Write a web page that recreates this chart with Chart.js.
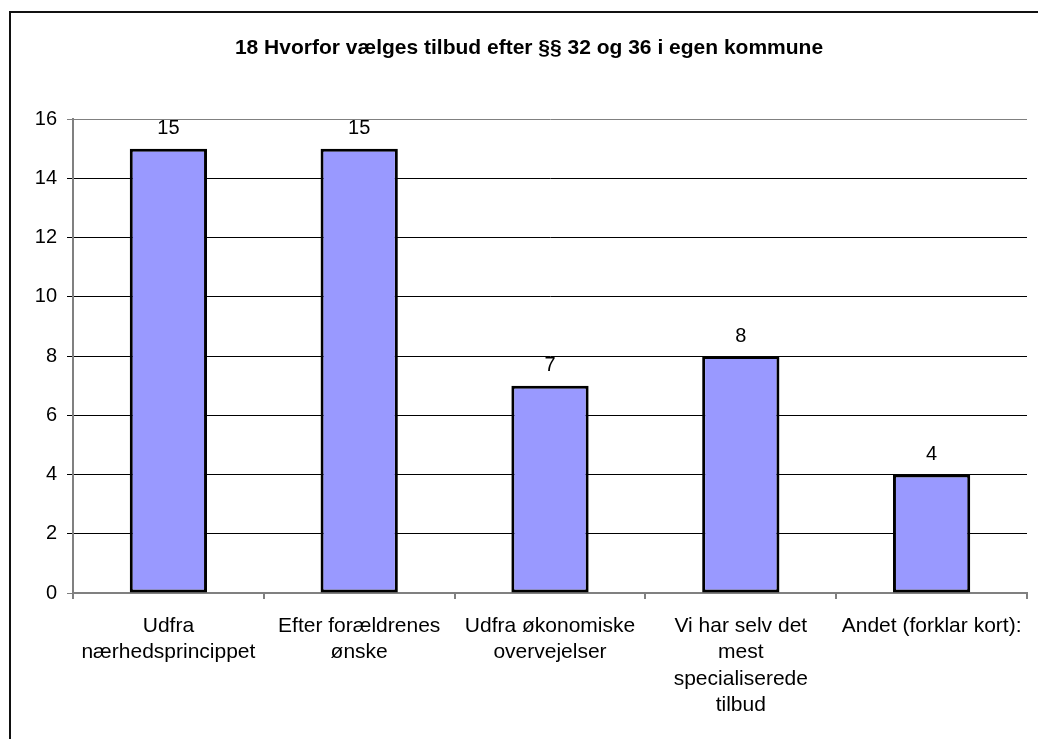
<!DOCTYPE html>
<html>
<head>
<meta charset="utf-8">
<script src="https://cdn.jsdelivr.net/npm/chart.js@4/dist/chart.umd.min.js"></script>
<style>
  html, body { margin: 0; padding: 0; background: #fff; }
  #wrap { width: 1038px; height: 739px; }
</style>
</head>
<body>
<div id="wrap"><canvas id="chart" width="1038" height="739"></canvas></div>
<script>
// ===== DATI =====
const categorie = [
  ["Udfra", "nærhedsprincippet"],
  ["Efter forældrenes", "ønske"],
  ["Udfra økonomiske", "overvejelser"],
  ["Vi har selv det", "mest", "specialiserede", "tilbud"],
  ["Andet (forklar kort):"],
];
const valori = [15, 15, 7, 8, 4];
const titolo = "18 Hvorfor vælges tilbud efter §§ 32 og 36 i egen kommune";

const FONT = "'Liberation Sans', Arial, sans-serif";

// cornice esterna (tagliata in basso e a destra)
const framePlugin = {
  id: "frame",
  beforeDraw(chart) {
    const ctx = chart.ctx;
    ctx.save();
    ctx.fillStyle = "#fff";
    ctx.fillRect(0, 0, chart.width, chart.height);
    ctx.strokeStyle = "#111";
    ctx.lineWidth = 2;
    ctx.strokeRect(10, 12, 1200, 900);
    ctx.restore();
  },
};

// etichette sopra le barre
const valueLabels = {
  id: "valueLabels",
  afterDatasetsDraw(chart) {
    const ctx = chart.ctx;
    const meta = chart.getDatasetMeta(0);
    ctx.save();
    ctx.font = "20px " + FONT;
    ctx.fillStyle = "#000";
    ctx.textAlign = "center";
    ctx.textBaseline = "middle";
    meta.data.forEach((bar, i) => {
      ctx.fillText(String(valori[i]), bar.x, bar.y - 20);
    });
    ctx.restore();
  },
};

new Chart(document.getElementById("chart"), {
  type: "bar",
  data: {
    labels: categorie,
    datasets: [
      {
        data: valori,
        backgroundColor: "#9999ff",
        borderColor: "#000",
        borderWidth: 3,
        borderSkipped: false,
        categoryPercentage: 1,
        barPercentage: 0.405,
      },
    ],
  },
  options: {
    responsive: false,
    animation: false,
    layout: { padding: { left: 31, right: 11, top: 0, bottom: 0 } },
    plugins: {
      legend: { display: false },
      tooltip: { enabled: false },
      title: {
        display: true,
        text: titolo,
        color: "#000",
        font: { family: FONT, size: 21, weight: "bold" },
        padding: { top: 36, bottom: 58 },
      },
    },
    scales: {
      x: {
        grid: {
          drawOnChartArea: false,
          drawTicks: true,
          tickLength: 6,
          color: "#808080",
          lineWidth: 2,
        },
        border: { color: "#808080", width: 2 },
        ticks: {
          color: "#000",
          font: { family: FONT, size: 21, lineHeight: 1.26 },
          padding: 14,
          maxRotation: 0,
          autoSkip: false,
        },
        afterFit(scale) {
          scale.height = 146;
        },
      },
      y: {
        min: 0,
        max: 16,
        ticks: {
          stepSize: 2,
          color: "#000",
          font: { family: FONT, size: 20 },
          padding: 10,
        },
        grid: {
          tickLength: 6,
          color: (c) =>
            c.tick && (c.tick.value === 0 || c.tick.value === 16) ? "#808080" : "#000",
          lineWidth: 1,
        },
        border: { color: "#808080", width: 2 },
        afterFit(scale) {
          scale.width = 42;
        },
      },
    },
  },
  plugins: [framePlugin, valueLabels],
});
</script>
</body>
</html>
